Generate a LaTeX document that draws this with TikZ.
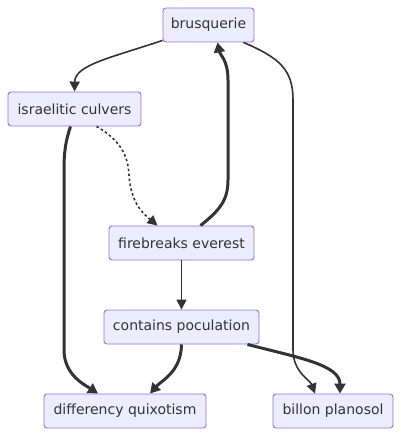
\documentclass[tikz,border=0pt]{standalone}
\usepackage{fontspec}
\setmainfont{DejaVu Sans}
\usetikzlibrary{arrows.meta,calc}
\definecolor{nodefill}{HTML}{ECECFF}
\definecolor{nodeline}{HTML}{9370DB}
\definecolor{edgecol}{HTML}{333333}
\begin{document}
\begin{tikzpicture}[x=1pt,y=-1pt,
  box/.style={draw=nodeline,fill=nodefill,rounded corners=3pt,line width=0.9pt,
    minimum height=34pt,inner sep=0pt,font=\fontsize{14}{16}\selectfont,text=edgecol},
  edge/.style={draw=edgecol,line width=1.6pt,-{Triangle[length=10pt,width=10pt]}},
  thickedge/.style={draw=edgecol,line width=3pt,-{Triangle[length=10pt,width=11pt]}},
  dotedge/.style={draw=edgecol,line width=1.6pt,dash pattern=on 2.5pt off 2.5pt,-{Triangle[length=10pt,width=10pt]}}]
\useasboundingbox (0,0) rectangle (401,436);
\node[box,minimum width=91pt] (b) at (208.5,25) {brusquerie};
\node[box,minimum width=133pt] (i) at (74.5,109) {israelitic culvers};
\node[box,minimum width=145pt] (f) at (181.5,243) {firebreaks everest};
\node[box,minimum width=155pt] (c) at (181.5,327) {contains poculation};
\node[box,minimum width=162pt] (d) at (125,411) {differency quixotism};
\node[box,minimum width=120pt] (p) at (333,411) {billon planosol};
% brusquerie -> israelitic
\draw[edge] ($(b.south west)+(0,-2)$) .. controls (110,58) and (75,65) .. (i.north);
% israelitic -> firebreaks (dotted)
\draw[dotedge] ($(i.south)+(22,0)$) .. controls (120,140) and (128,155) .. (129,175) .. controls (131,205) and (145,215) .. ($(f.north)+(-24,0)$);
% firebreaks -> brusquerie
\draw[thickedge] ($(f.north)+(19,0)$) .. controls (220,210) and (228,200) .. (228,180) -- (228,80) .. controls (228,60) and (220,55) .. ($(b.south)+(9,0)$);
% brusquerie -> billon
\draw[edge] ($(b.south east)+(-11,0)$) .. controls (280,58) and (293,70) .. (293,100) -- (293,350) .. controls (293,372) and (310,380) .. ($(p.north)+(-18,0)$);
% israelitic -> differency
\draw[thickedge] ($(i.south)+(-4,0)$) .. controls (66,140) and (64,150) .. (64,170) -- (64,350) .. controls (64,375) and (85,385) .. ($(d.north)+(-27,0)$);
% firebreaks -> contains
\draw[edge] (f.south) -- (c.north);
% contains -> differency
\draw[thickedge] (c.south) .. controls (181,372) and (162,380) .. ($(d.north)+(25,0)$);
% contains -> billon
\draw[thickedge] ($(c.south east)+(-12,0)$) .. controls (300,358) and (340,365) .. ($(p.north)+(7,0)$);
\end{tikzpicture}
\end{document}
